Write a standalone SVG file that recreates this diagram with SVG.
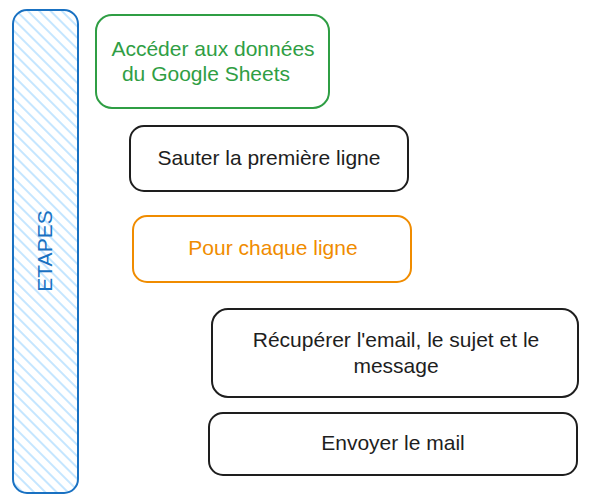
<svg xmlns="http://www.w3.org/2000/svg" width="589" height="504" viewBox="0 0 589 504">
<style>
.box{fill:none;stroke-width:2;stroke-linejoin:round}
.t{font-family:"Liberation Sans",Arial,sans-serif;font-size:21px;text-anchor:middle}
.k{stroke:#1e1e1e}.tk{fill:#1e1e1e}
.g{stroke:#2f9e44}.tg{fill:#2f9e44}
.o{stroke:#f08c00}.to{fill:#f08c00}
.b{stroke:#1971c2}.tb{fill:#1971c2}
</style>
<defs>
<pattern id="hatch" patternUnits="userSpaceOnUse" width="8" height="8" patternTransform="rotate(45)">
<line x1="0" y1="4" x2="8" y2="4" stroke="#a5d8ff" stroke-width="1.3"/>
</pattern>
</defs>
<rect width="589" height="504" fill="#ffffff"/>
<g id="etapes">
<rect x="13" y="10" width="65" height="483" rx="14" style="fill:url(#hatch)" class="box b"/>
<text class="t tb" transform="translate(52,251) rotate(-90)">ETAPES</text>
</g>
<g id="node-acceder">
<rect x="96" y="15" width="233" height="93" rx="16" class="box g"/>
<text class="t tg" x="213" y="56">Accéder aux données</text>
<text class="t tg" x="206" y="81">du Google Sheets</text>
</g>
<g id="node-sauter">
<rect x="130" y="126" width="278" height="65" rx="14" class="box k"/>
<text class="t tk" x="269" y="165">Sauter la première ligne</text>
</g>
<g id="node-pour">
<rect x="133" y="216" width="278" height="66" rx="14" class="box o"/>
<text class="t to" x="273" y="255">Pour chaque ligne</text>
</g>
<g id="node-recuperer">
<rect x="212" y="309" width="366" height="88" rx="16" class="box k"/>
<text class="t tk" x="396" y="347">Récupérer l'email, le sujet et le</text>
<text class="t tk" x="396" y="373">message</text>
</g>
<g id="node-envoyer">
<rect x="209" y="413" width="368" height="62" rx="14" class="box k"/>
<text class="t tk" x="393" y="450">Envoyer le mail</text>
</g>
<g id="connectors"></g>
</svg>
